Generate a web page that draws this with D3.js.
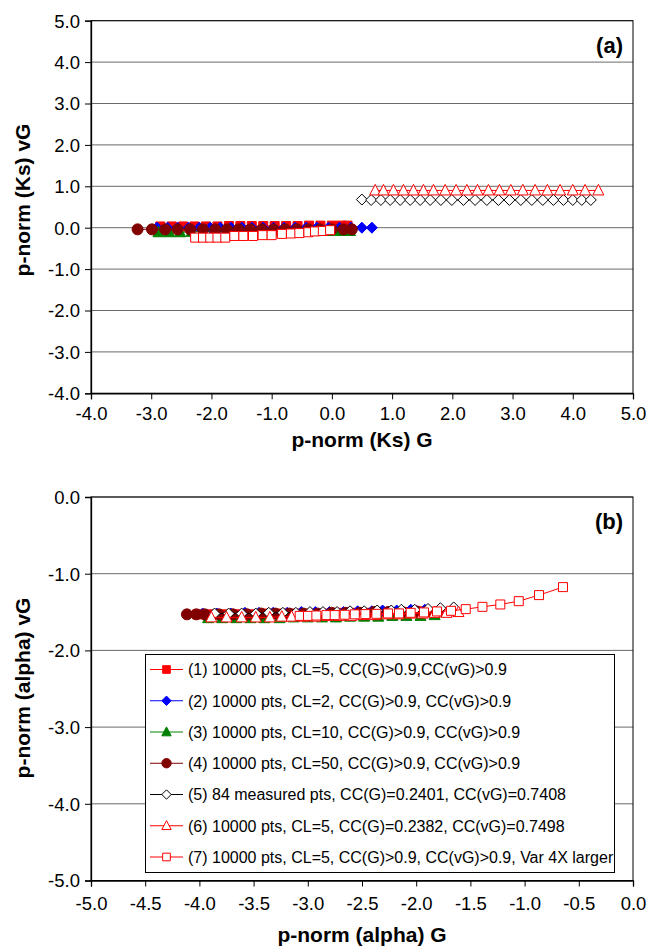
<!DOCTYPE html>
<html>
<head>
<meta charset="utf-8">
<script src="https://cdn.jsdelivr.net/npm/d3@7"></script>
<style>
  html, body { margin: 0; padding: 0; background: #fff; }
  svg { display: block; }
  text { font-family: "Liberation Sans", Arial, Helvetica, sans-serif; }
</style>
</head>
<body>
<svg id="chart" width="653" height="952"></svg>
<script>
// ---------------- DATA ----------------
const seriesNames = [
  "(1) 10000 pts, CL=5, CC(G)>0.9,CC(vG)>0.9",
  "(2) 10000 pts, CL=2, CC(G)>0.9, CC(vG)>0.9",
  "(3) 10000 pts, CL=10, CC(G)>0.9, CC(vG)>0.9",
  "(4) 10000 pts, CL=50, CC(G)>0.9, CC(vG)>0.9",
  "(5) 84 measured pts, CC(G)=0.2401, CC(vG)=0.7408",
  "(6) 10000 pts, CL=5, CC(G)=0.2382, CC(vG)=0.7498",
  "(7) 10000 pts, CL=5, CC(G)>0.9, CC(vG)>0.9, Var 4X larger"
];

// Panel (a): p-norm (Ks)
const a1x = [-2.85,-2.66,-2.47,-2.28,-2.09,-1.90,-1.71,-1.52,-1.33,-1.14,-0.95,-0.76,-0.57,-0.38,-0.19,0.00,0.15,0.26];
const a1y = [0.03,0.03,0.03,0.03,0.03,0.03,0.04,0.04,0.04,0.04,0.04,0.04,0.04,0.05,0.05,0.05,0.05,0.05];
const a2x = [-2.905,-2.729,-2.563,-2.380,-2.202,-2.020,-1.854,-1.676,-1.494,-1.328,-1.145,-0.969,-0.792,-0.609,-0.426,-0.249,-0.056,0.126,0.315,0.498,0.664];
const a2y = [0.00,0.00,0.00,0.00,0.00,0.00,0.00,0.00,0.00,0.00,0.00,0.00,0.00,0.00,0.00,0.00,0.00,0.00,0.00,0.00,0.00];
const a3x = [-2.88,-2.70,-2.52,-2.33,-2.14,-1.95,-1.76,-1.57,-1.38,-1.19,-1.00,-0.81,-0.62,-0.43,-0.24,-0.05,0.14,0.30];
const a3y = [-0.11,-0.11,-0.11,-0.10,-0.10,-0.10,-0.10,-0.09,-0.09,-0.09,-0.09,-0.09,-0.08,-0.08,-0.08,-0.08,-0.08,-0.08];
const a4x = [-3.227,-2.988,-2.767,-2.563,-2.352,-2.141,-1.937,-1.743,-1.550,-1.356,-1.162,-0.969,-0.775,-0.581,-0.388,-0.194,0.000,0.193,0.332];
const a4y = [-0.04,-0.04,-0.04,-0.04,-0.04,-0.04,-0.04,-0.04,-0.04,-0.04,-0.04,-0.04,-0.04,-0.04,-0.04,-0.04,-0.04,-0.04,-0.04];
const a5x = [0.498,0.652,0.813,0.968,1.134,1.300,1.466,1.632,1.809,1.992,2.184,2.378,2.573,2.765,2.948,3.137,3.320,3.502,3.678,3.844,4.000,4.149,4.299];
const a5y = [0.68,0.67,0.67,0.67,0.67,0.67,0.67,0.67,0.67,0.67,0.67,0.67,0.67,0.67,0.67,0.67,0.67,0.67,0.67,0.67,0.67,0.67,0.67];
const a6x = [0.719,0.856,1.022,1.188,1.354,1.520,1.686,1.881,2.063,2.241,2.417,2.599,2.782,2.971,3.170,3.374,3.578,3.789,4.000,4.204,4.425];
const a6y = [0.90,0.90,0.90,0.90,0.90,0.90,0.90,0.90,0.90,0.90,0.90,0.90,0.90,0.90,0.90,0.90,0.90,0.90,0.90,0.90,0.90];
const a7x = [-2.27,-2.14,-2.02,-1.90,-1.77,-1.62,-1.47,-1.31,-1.15,-1.00,-0.83,-0.68,-0.54,-0.39,-0.28,-0.15,-0.03];
const a7y = [-0.24,-0.24,-0.24,-0.24,-0.24,-0.20,-0.20,-0.20,-0.18,-0.18,-0.15,-0.14,-0.13,-0.11,-0.09,-0.08,-0.06];

// Panel (b): p-norm (alpha)
const b1x = [-4.02,-3.89,-3.76,-3.63,-3.50,-3.37,-3.24,-3.11,-2.98,-2.85,-2.72,-2.59,-2.46,-2.33,-2.20,-2.07,-1.94,-1.80];
const b1y = [-1.53,-1.53,-1.53,-1.53,-1.53,-1.52,-1.52,-1.52,-1.52,-1.52,-1.51,-1.51,-1.51,-1.50,-1.50,-1.50,-1.49,-1.49];
const b2x = [-3.97,-3.84,-3.71,-3.58,-3.45,-3.32,-3.19,-3.06,-2.93,-2.80,-2.67,-2.54,-2.41,-2.31,-2.18,-2.05,-1.92,-1.78];
const b2y = [-1.52,-1.52,-1.52,-1.51,-1.51,-1.51,-1.51,-1.50,-1.50,-1.50,-1.50,-1.49,-1.49,-1.48,-1.48,-1.47,-1.47,-1.46];
const b3x = [-3.92,-3.79,-3.66,-3.53,-3.40,-3.26,-3.13,-3.00,-2.87,-2.74,-2.61,-2.48,-2.35,-2.22,-2.09,-1.96,-1.83];
const b3y = [-1.58,-1.58,-1.58,-1.58,-1.58,-1.58,-1.57,-1.57,-1.57,-1.57,-1.56,-1.56,-1.56,-1.55,-1.55,-1.55,-1.54];
const b4x = [-4.115,-4.028,-3.952,-3.82,-3.69,-3.56,-3.43,-3.30,-3.17,-3.04,-2.91,-2.78,-2.65,-2.52,-2.39,-2.26,-2.13,-2.00,-1.90];
const b4y = [-1.53,-1.53,-1.53,-1.53,-1.53,-1.53,-1.52,-1.52,-1.52,-1.52,-1.52,-1.51,-1.51,-1.51,-1.50,-1.50,-1.50,-1.49,-1.49];
const b5x = [-3.86,-3.73,-3.61,-3.48,-3.36,-3.23,-3.11,-2.98,-2.86,-2.73,-2.61,-2.48,-2.36,-2.23,-2.137,-2.014,-1.891,-1.777,-1.654];
const b5y = [-1.52,-1.52,-1.52,-1.52,-1.51,-1.51,-1.51,-1.50,-1.50,-1.50,-1.49,-1.49,-1.48,-1.48,-1.47,-1.47,-1.46,-1.45,-1.44];
const b6x = [-3.89,-3.75,-3.61,-3.48,-3.35,-3.24,-3.15,-3.04,-2.93,-2.82,-2.71,-2.60,-2.49,-2.38,-2.27,-2.16,-2.05,-1.94,-1.83,-1.72,-1.61];
const b6y = [-1.57,-1.57,-1.57,-1.57,-1.57,-1.56,-1.56,-1.56,-1.56,-1.55,-1.55,-1.55,-1.54,-1.54,-1.53,-1.53,-1.52,-1.52,-1.51,-1.51,-1.50];
const b7x = [-3.075,-2.998,-2.921,-2.828,-2.752,-2.660,-2.567,-2.469,-2.367,-2.260,-2.159,-2.051,-1.928,-1.808,-1.679,-1.543,-1.389,-1.224,-1.054,-0.867,-0.646];
const b7y = [-1.55,-1.55,-1.545,-1.54,-1.54,-1.535,-1.53,-1.527,-1.523,-1.518,-1.518,-1.510,-1.505,-1.492,-1.484,-1.462,-1.432,-1.401,-1.358,-1.279,-1.175];

const aXTicks = [-4,-3,-2,-1,0,1,2,3,4,5];
const aYTicks = [5,4,3,2,1,0,-1,-2,-3,-4];
const bXTicks = [-5,-4.5,-4,-3.5,-3,-2.5,-2,-1.5,-1,-0.5,0];
const bYTicks = [0,-1,-2,-3,-4,-5];

// ---------------- STYLE ----------------
const styles = [
  {color:"#ff0000", shape:"square",   fill:true},
  {color:"#0000ff", shape:"diamond",  fill:true},
  {color:"#008000", shape:"triangle", fill:true},
  {color:"#800000", shape:"circle",   fill:true},
  {color:"#000000", shape:"diamond",  fill:false},
  {color:"#ff0000", shape:"triangle", fill:false},
  {color:"#ff0000", shape:"square",   fill:false}
];

function markerPath(shape, k) {
  const p = d3.path();
  if (shape === "square") {
    const s = 4.5*k; p.rect(-s, -s, 2*s, 2*s);
  } else if (shape === "diamond") {
    const r = 5.5*k; p.moveTo(0,-r); p.lineTo(r,0); p.lineTo(0,r); p.lineTo(-r,0); p.closePath();
  } else if (shape === "triangle") {
    const w = 5.5*k, t = 6*k, b = 4.5*k; p.moveTo(0,-t); p.lineTo(w,b); p.lineTo(-w,b); p.closePath();
  } else {
    p.arc(0,0,5.5*k,0,2*Math.PI);
  }
  return p.toString();
}

const svg = d3.select("#chart");
const FONT_TICK = 18.5, FONT_TITLE = 21;
const fmt = d => d.toFixed(1);   // plain hyphen-minus like the original

function drawPanel(cfg) {
  const x = d3.scaleLinear().domain(cfg.xDomain).range([cfg.left, cfg.right]);
  const y = d3.scaleLinear().domain(cfg.yDomain).range([cfg.bottom, cfg.top]);
  const g = svg.append("g");

  // gridlines
  g.append("g").selectAll("line").data(cfg.yTicks).join("line")
    .attr("x1", cfg.left).attr("x2", cfg.right)
    .attr("y1", d => y(d)).attr("y2", d => y(d))
    .attr("stroke", "#6a6a6a").attr("stroke-width", 1);

  // plot frame
  g.append("rect").attr("x", cfg.left).attr("y", cfg.top)
    .attr("width", cfg.right - cfg.left).attr("height", cfg.bottom - cfg.top)
    .attr("fill", "none").attr("stroke", "#000").attr("stroke-width", 1);

  // axes
  const yAxis = d3.axisLeft(y).tickValues(cfg.yTicks).tickSize(6).tickPadding(5).tickFormat(fmt);
  const xAxis = d3.axisBottom(x).tickValues(cfg.xTicks).tickSize(6).tickPadding(cfg.xPad).tickFormat(fmt);
  const ya = g.append("g").attr("transform", `translate(${cfg.left},0)`).call(yAxis);
  const xa = g.append("g").attr("transform", `translate(0,${cfg.bottom})`).call(xAxis);
  [ya, xa].forEach(a => {
    a.select(".domain").attr("stroke", "#000").attr("stroke-width", 1.3);
    a.selectAll(".tick line").attr("stroke", "#000");
    a.selectAll("text").attr("font-size", FONT_TICK).attr("fill", "#000")
      .style("font-family", '"Liberation Sans", Arial, sans-serif');
  });
  ya.selectAll("text").attr("dy", "0.35em");

  // series
  cfg.series.forEach((s, i) => {
    const st = styles[i];
    const pts = s.x.map((v, j) => [v, s.y[j]]);
    const sg = g.append("g");
    sg.append("path").datum(pts)
      .attr("d", d3.line().x(d => x(d[0])).y(d => y(d[1])))
      .attr("fill", "none").attr("stroke", st.color).attr("stroke-width", 1);
    sg.selectAll("path.m").data(pts).join("path").attr("class", "m")
      .attr("transform", d => `translate(${x(d[0])},${y(d[1])})`)
      .attr("d", markerPath(st.shape, 1))
      .attr("fill", st.fill ? st.color : "#fff")
      .attr("stroke", st.color).attr("stroke-width", 1);
  });

  // titles
  svg.append("text").attr("x", (cfg.left + cfg.right) / 2).attr("y", cfg.xTitleY)
    .attr("text-anchor", "middle").attr("font-size", FONT_TITLE).attr("font-weight", "bold")
    .text(cfg.xTitle);
  svg.append("text").attr("transform", `translate(${cfg.yTitleX},${cfg.yTitleCY}) rotate(-90)`)
    .attr("text-anchor", "middle").attr("font-size", FONT_TITLE).attr("font-weight", "bold")
    .text(cfg.yTitle);
  svg.append("text").attr("x", cfg.right - 10).attr("y", cfg.top + cfg.labelDy)
    .attr("text-anchor", "end").attr("font-size", 22).attr("font-weight", "bold")
    .text(cfg.label);
  return {x, y};
}

drawPanel({
  left: 91, right: 633, top: 20.7, bottom: 393.3,
  xDomain: [-4, 5], yDomain: [-4, 5], xTicks: aXTicks, yTicks: aYTicks, xPad: 8,
  series: [
    {x:a1x,y:a1y},{x:a2x,y:a2y},{x:a3x,y:a3y},{x:a4x,y:a4y},
    {x:a5x,y:a5y},{x:a6x,y:a6y},{x:a7x,y:a7y}
  ],
  xTitle: "p-norm (Ks) G", xTitleY: 447,
  yTitle: "p-norm (Ks) vG", yTitleX: 29.5, yTitleCY: 200,
  label: "(a)", labelDy: 32
});

drawPanel({
  left: 91, right: 633, top: 497, bottom: 880.5,
  xDomain: [-5, 0], yDomain: [-5, 0], xTicks: bXTicks, yTicks: bYTicks, xPad: 10,
  series: [
    {x:b1x,y:b1y},{x:b2x,y:b2y},{x:b3x,y:b3y},{x:b4x,y:b4y},
    {x:b5x,y:b5y},{x:b6x,y:b6y},{x:b7x,y:b7y}
  ],
  xTitle: "p-norm (alpha) G", xTitleY: 942,
  yTitle: "p-norm (alpha) vG", yTitleX: 29.5, yTitleCY: 688,
  label: "(b)", labelDy: 32
});

// ---------------- LEGEND ----------------
const leg = svg.append("g");
leg.append("rect").attr("x", 145.5).attr("y", 654.5).attr("width", 469).attr("height", 218)
  .attr("fill", "#fff").attr("stroke", "#000").attr("stroke-width", 1);
const legY = d3.scalePoint().domain(d3.range(seriesNames.length)).range([669.5, 857]);
seriesNames.forEach((name, i) => {
  const st = styles[i];
  const cy = legY(i);
  leg.append("line").attr("x1", 150).attr("x2", 183).attr("y1", cy).attr("y2", cy)
    .attr("stroke", st.color).attr("stroke-width", 1);
  leg.append("path").attr("transform", `translate(166.5,${cy})`)
    .attr("d", markerPath(st.shape, 0.85))
    .attr("fill", st.fill ? st.color : "#fff").attr("stroke", st.color).attr("stroke-width", 1);
  leg.append("text").attr("x", 188).attr("y", cy).attr("dy", "0.36em")
    .attr("font-size", 16).attr("fill", "#000").text(name);
});
</script>
</body>
</html>
